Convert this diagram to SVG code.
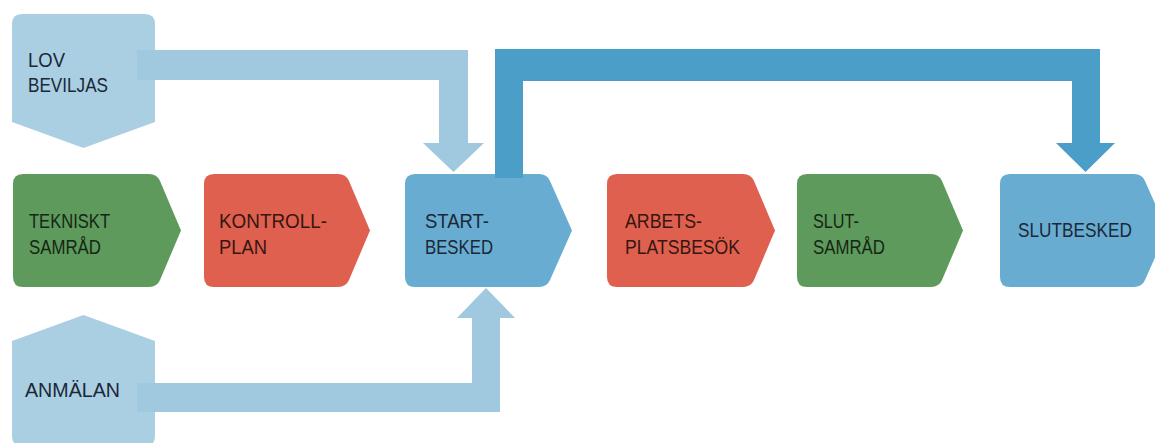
<svg xmlns="http://www.w3.org/2000/svg" width="1155" height="443" viewBox="0 0 1155 443">
<style>
.t{font-family:"Liberation Sans",Arial,sans-serif;font-size:21px;fill:#1b2836}
.tg{fill:#162616}
.tr{fill:#361610}
.green{fill:#5e9a5c}
.red{fill:#e0604f}
.blue{fill:#68acd2}
.light{fill:#aacfe3}
.larrow{fill:#a0c8de}
.darrow{fill:#4b9ec7}
</style>
<rect width="1155" height="443" fill="#ffffff"/>
<g id="lov-beviljas">
<path class="light" d="M22,14 H145 Q155,14 155,24 V122 L83.5,148 L12,122 V24 Q12,14 22,14 Z"/>
<text class="t" x="28" y="67" textLength="37" lengthAdjust="spacingAndGlyphs">LOV</text>
<text class="t" x="28" y="92" textLength="80" lengthAdjust="spacingAndGlyphs">BEVILJAS</text>
</g>
<g id="anmalan">
<path class="light" d="M12,341 L83.5,315 L155,341 V436 Q155,446 145,446 H22 Q12,446 12,436 Z"/>
<text class="t" x="25" y="397" textLength="95" lengthAdjust="spacingAndGlyphs">ANMÄLAN</text>
</g>
<g id="tekniskt-samrad">
<path class="green" d="M23,174 H149 Q157,174 160,181 L181,230.5 L160,280 Q157,287 149,287 H23 Q13,287 13,277 V184 Q13,174 23,174 Z"/>
<text class="t tg" x="29" y="228" textLength="81" lengthAdjust="spacingAndGlyphs">TEKNISKT</text>
<text class="t tg" x="29" y="254" textLength="72" lengthAdjust="spacingAndGlyphs">SAMRÅD</text>
</g>
<g id="kontrollplan">
<path class="red" d="M214,174 H338 Q346,174 349,181 L370,230.5 L349,280 Q346,287 338,287 H214 Q204,287 204,277 V184 Q204,174 214,174 Z"/>
<text class="t tr" x="219" y="228" textLength="108" lengthAdjust="spacingAndGlyphs">KONTROLL-</text>
<text class="t tr" x="219" y="254" textLength="48" lengthAdjust="spacingAndGlyphs">PLAN</text>
</g>
<g id="startbesked">
<path class="blue" d="M415,174 H539 Q547,174 550,181 L572,230.5 L550,280 Q547,287 539,287 H415 Q405,287 405,277 V184 Q405,174 415,174 Z"/>
<text class="t" x="425" y="228" textLength="64" lengthAdjust="spacingAndGlyphs">START-</text>
<text class="t" x="425" y="254" textLength="68" lengthAdjust="spacingAndGlyphs">BESKED</text>
</g>
<g id="arbetsplatsbesok">
<path class="red" d="M617,174 H743 Q751,174 754,181 L775,230.5 L754,280 Q751,287 743,287 H617 Q607,287 607,277 V184 Q607,174 617,174 Z"/>
<text class="t tr" x="625" y="228" textLength="77" lengthAdjust="spacingAndGlyphs">ARBETS-</text>
<text class="t tr" x="625" y="254" textLength="115" lengthAdjust="spacingAndGlyphs">PLATSBESÖK</text>
</g>
<g id="slutsamrad">
<path class="green" d="M807,174 H931 Q939,174 942,181 L963,230.5 L942,280 Q939,287 931,287 H807 Q797,287 797,277 V184 Q797,174 807,174 Z"/>
<text class="t tg" x="813" y="228" textLength="46" lengthAdjust="spacingAndGlyphs">SLUT-</text>
<text class="t tg" x="813" y="254" textLength="72" lengthAdjust="spacingAndGlyphs">SAMRÅD</text>
</g>
<g id="slutbesked">
<path class="blue" d="M1010,174 H1134 Q1142,174 1145,181 L1167,230.5 L1145,280 Q1142,287 1134,287 H1010 Q1000,287 1000,277 V184 Q1000,174 1010,174 Z"/>
<text class="t" x="1018" y="237" textLength="114" lengthAdjust="spacingAndGlyphs">SLUTBESKED</text>
</g>
<g id="connectors">
<path class="larrow" d="M137,50 H468 V143 H484 L453.5,172 L423,143 H439 V80 H137 Z"/>
<path class="larrow" d="M137,383 H472 V318 H457 L486,288 L515,318 H500 V412 H137 Z"/>
<path class="darrow" d="M495,178 V49 H1100 V143 H1115 L1085.5,172 L1056,143 H1072 V81 H523 V178 Z"/>
</g>
</svg>
